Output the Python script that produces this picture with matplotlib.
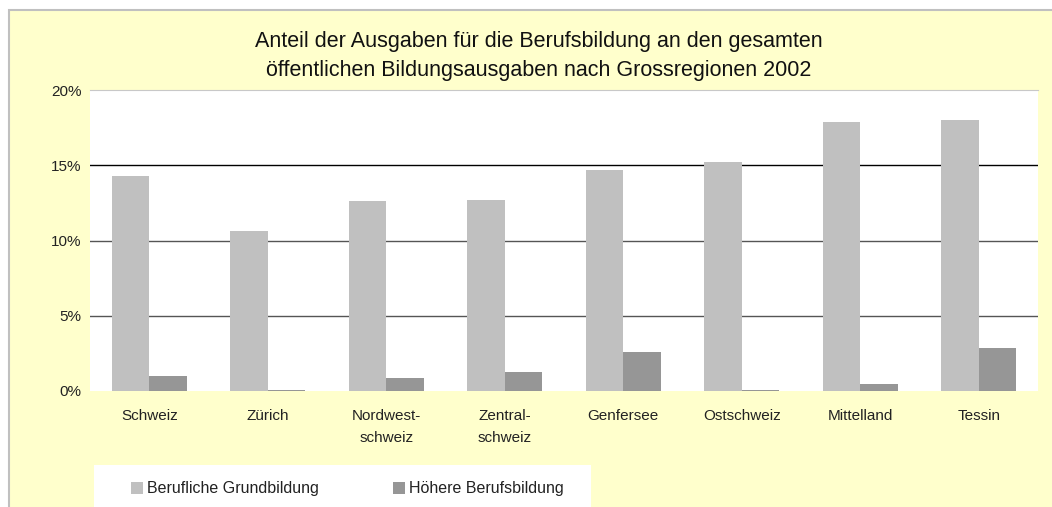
import matplotlib
matplotlib.use("Agg")
import matplotlib.pyplot as plt
import numpy as np
from matplotlib.patches import Rectangle

plt.rcParams["font.family"] = ["Liberation Sans", "DejaVu Sans"]

regions = ["Schweiz", "Zürich", "Nordwest-\nschweiz", "Zentral-\nschweiz", "Genfersee",
           "Ostschweiz", "Mittelland", "Tessin"]
grundbildung = [14.3, 10.6, 12.6, 12.7, 14.7, 15.2, 17.9, 18.0]
hoehere = [1.0, 0.05, 0.87, 1.25, 2.6, 0.05, 0.47, 2.85]
yticks = [0, 5, 10, 15, 20]

W, H = 1052, 507
fig = plt.figure(figsize=(W / 100, H / 100), dpi=100)
fig.patch.set_facecolor("white")
# pale yellow chart area with grey frame (top/left)
fig.patches.append(Rectangle((9.5 / W, -0.05), 1.1, (H - 10 + 25) / H, transform=fig.transFigure,
                             facecolor="#FFFFCC", edgecolor="#C0C0C0", lw=1.5, zorder=0))
# legend box (white, bottom left)
fig.patches.append(Rectangle((94 / W, -0.05), (591 - 94) / W, (H - 465) / H + 0.05,
                             transform=fig.transFigure, facecolor="white", edgecolor="none", zorder=0.5))

ax = fig.add_axes([90 / W, (H - 391) / H, (1038 - 90) / W, (391 - 90) / H])
ax.set_zorder(2)
ax.set_facecolor("white")
x = np.arange(len(regions))
bw = 0.315
ax.bar(x - bw / 2, grundbildung, bw, color="#C0C0C0", label="Berufliche Grundbildung", zorder=1)
ax.bar(x + bw / 2, hoehere, bw, color="#969696", label="Höhere Berufsbildung", zorder=1)

ax.set_xlim(-0.5, len(regions) - 0.5)
ax.set_ylim(0, 20)
ax.set_yticks(yticks)
ax.set_yticklabels([f"{v}%" for v in yticks], fontsize=11, color="#222222")
for v in yticks[1:-1]:
    ax.axhline(v, color="black" if v == 15 else "#555555", lw=1, zorder=0.5)
ax.set_xticks(x)
ax.set_xticklabels(regions, fontsize=11, color="#222222", linespacing=1.75)
ax.tick_params(length=0, axis="x", pad=13)
ax.tick_params(length=0, axis="y", pad=6)
for s in ["left", "right", "bottom"]:
    ax.spines[s].set_visible(False)
ax.spines["top"].set_color("#C8C8C8")

fig.text(0.512, 1 - 56 / H, "Anteil der Ausgaben für die Berufsbildung an den gesamten\n"
         "öffentlichen Bildungsausgaben nach Grossregionen 2002",
         ha="center", va="center", fontsize=15.5, linespacing=1.55, color="#111111")

leg = fig.legend(loc="center left", bbox_to_anchor=(117 / W, 1 - 489 / H), ncol=2, frameon=False,
                 fontsize=11.5, handlelength=0.7, handleheight=0.7, handletextpad=0.25,
                 columnspacing=4.7, labelcolor="#222222")
leg.set_zorder(3)

fig.savefig("out.png", dpi=100)
